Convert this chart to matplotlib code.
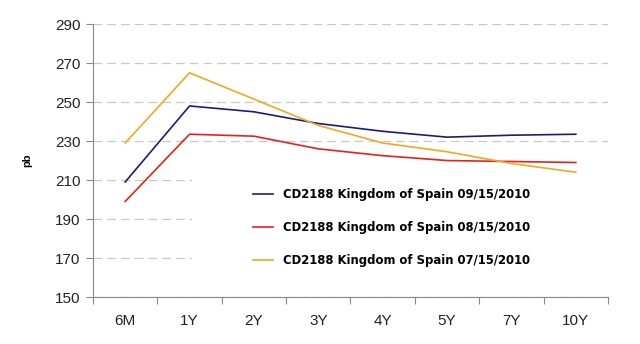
import matplotlib.pyplot as plt
from matplotlib.patches import Rectangle

plt.rcParams['font.family'] = ['Liberation Sans', 'DejaVu Sans']

tenors = ['6M', '1Y', '2Y', '3Y', '4Y', '5Y', '7Y', '10Y']
spread_sep = [209, 248, 245, 239, 235, 232, 233, 233.5]
spread_aug = [199, 233.5, 232.5, 226, 222.5, 220, 219.5, 219]
spread_jul = [229, 265, 251.5, 238, 229, 224.5, 218.5, 214]

labels = [
    'CD2188 Kingdom of Spain 09/15/2010',
    'CD2188 Kingdom of Spain 08/15/2010',
    'CD2188 Kingdom of Spain 07/15/2010',
]
colors = ['#1c1c78', '#e8201a', '#f2a81e']

fig = plt.figure(figsize=(6.4, 3.44), dpi=100)
ax = fig.add_axes([0.1453, 0.1366, 0.8047, 0.7934])

x = list(range(len(tenors)))
for y, lab, c in zip([spread_sep, spread_aug, spread_jul], labels, colors):
    ax.plot(x, y, color=c, lw=1.2, label=lab, zorder=3)

ax.set_xlim(-0.5, len(tenors) - 0.5)
ax.set_ylim(150, 290)
ax.set_yticks(range(150, 291, 20))
ax.set_xticks([i - 0.5 for i in range(len(tenors) + 1)])
ax.set_xticklabels([])
ax.set_xticks(x, minor=True)
ax.set_xticklabels(tenors, minor=True)
ax.tick_params(axis='x', which='minor', length=0, pad=12, labelsize=11, colors='#222222')
ax.tick_params(axis='x', which='major', length=5, color='#888888')
ax.tick_params(axis='y', length=5, color='#888888', labelsize=11, labelcolor='#222222', pad=4)

ax.set_axisbelow(True)
ax.yaxis.grid(True, color='#c8c8c8', ls=(0, (7, 4)), lw=0.9)
for s in ['top', 'right']:
    ax.spines[s].set_visible(False)
for s in ['left', 'bottom']:
    ax.spines[s].set_color('#888888')

ax.set_ylabel('pb', fontsize=8, fontweight='bold', labelpad=16)

# white panel behind the legend
ax.add_patch(Rectangle((0.193, 0.003), 0.807, 0.44, transform=ax.transAxes,
                       facecolor='white', edgecolor='none', zorder=1))

ax.legend(loc='upper left', bbox_to_anchor=(0.31, 0.40), frameon=False,
          prop={'family': 'DejaVu Sans', 'size': 8.4, 'weight': 'bold'},
          labelspacing=1.72, handlelength=1.75, handletextpad=0.85,
          borderpad=0, borderaxespad=0)

fig.savefig('out.png', dpi=100)
